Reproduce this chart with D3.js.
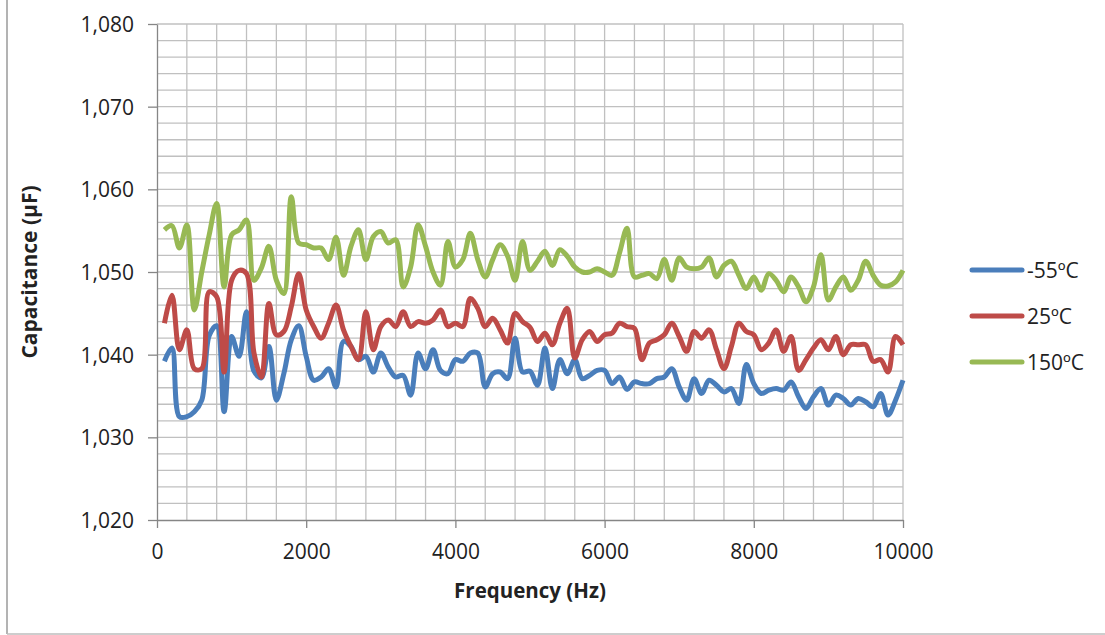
<!DOCTYPE html>
<html>
<head>
<meta charset="utf-8">
<script src="https://cdn.jsdelivr.net/npm/d3@7"></script>
<style>
  body { margin: 0; background: #fff; }
  text { font-family: "Open Sans", "Liberation Sans", sans-serif; fill: #222; }
</style>
</head>
<body>
<div id="chart"></div>
<script>
// frequencies (Hz), one sample every 100 Hz
const freqs = [100, 200, 300, 400, 500, 600, 700, 800, 900, 1000,
  1100, 1200, 1300, 1400, 1500, 1600, 1700, 1800, 1900, 2000,
  2100, 2200, 2300, 2400, 2500, 2600, 2700, 2800, 2900, 3000,
  3100, 3200, 3300, 3400, 3500, 3600, 3700, 3800, 3900, 4000,
  4100, 4200, 4300, 4400, 4500, 4600, 4700, 4800, 4900, 5000,
  5100, 5200, 5300, 5400, 5500, 5600, 5700, 5800, 5900, 6000,
  6100, 6200, 6300, 6400, 6500, 6600, 6700, 6800, 6900, 7000,
  7100, 7200, 7300, 7400, 7500, 7600, 7700, 7800, 7900, 8000,
  8100, 8200, 8300, 8400, 8500, 8600, 8700, 8800, 8900, 9000,
  9100, 9200, 9300, 9400, 9500, 9600, 9700, 9800, 9900, 10000];

const capMinus55 = [1.0392, 1.0408, 1.0325, 1.0325, 1.0331, 1.0345, 1.0423, 1.0435, 1.0331, 1.0422,
  1.0398, 1.0452, 1.0380, 1.0372, 1.0410, 1.0345, 1.0377, 1.0418, 1.0435, 1.0398,
  1.0369, 1.0373, 1.0383, 1.0361, 1.0416, 1.0410, 1.0394, 1.0398, 1.0379, 1.0402,
  1.0385, 1.0373, 1.0375, 1.0351, 1.0402, 1.0383, 1.0406, 1.0381, 1.0377, 1.0394,
  1.0392, 1.0402, 1.0402, 1.0361, 1.0377, 1.0379, 1.0371, 1.0420, 1.0379, 1.0380,
  1.0363, 1.0408, 1.0359, 1.0394, 1.0377, 1.0394, 1.0371, 1.0375, 1.0381, 1.0381,
  1.0365, 1.0373, 1.0358, 1.0367, 1.0365, 1.0365, 1.0371, 1.0373, 1.0383, 1.0361,
  1.0345, 1.0371, 1.0353, 1.0369, 1.0363, 1.0355, 1.0359, 1.0341, 1.0388, 1.0365,
  1.0353, 1.0357, 1.0359, 1.0357, 1.0367, 1.0349, 1.0335, 1.0349, 1.0359, 1.0339,
  1.0351, 1.0347, 1.0339, 1.0347, 1.0343, 1.0337, 1.0353, 1.0327, 1.0345, 1.0369];

const cap25 = [1.0438, 1.0472, 1.0406, 1.0430, 1.0383, 1.0383, 1.0476, 1.0470, 1.0379, 1.0490,
  1.0502, 1.0498, 1.0402, 1.0373, 1.0462, 1.0424, 1.0428, 1.0458, 1.0498, 1.0454,
  1.0434, 1.0420, 1.0438, 1.0460, 1.0430, 1.0410, 1.0394, 1.0452, 1.0406, 1.0434,
  1.0442, 1.0434, 1.0452, 1.0434, 1.0440, 1.0438, 1.0442, 1.0454, 1.0434, 1.0438,
  1.0434, 1.0468, 1.0456, 1.0434, 1.0444, 1.0430, 1.0414, 1.0450, 1.0440, 1.0433,
  1.0416, 1.0426, 1.0412, 1.0438, 1.0456, 1.0396, 1.0418, 1.0428, 1.0416, 1.0424,
  1.0426, 1.0438, 1.0434, 1.0432, 1.0394, 1.0414, 1.0418, 1.0424, 1.0438, 1.0422,
  1.0404, 1.0428, 1.0420, 1.0430, 1.0406, 1.0383, 1.0410, 1.0438, 1.0428, 1.0424,
  1.0406, 1.0414, 1.0430, 1.0404, 1.0422, 1.0381, 1.0394, 1.0408, 1.0418, 1.0406,
  1.0422, 1.0400, 1.0412, 1.0412, 1.0412, 1.0392, 1.0394, 1.0379, 1.0422, 1.0412];

const cap150 = [1.0551, 1.0556, 1.0529, 1.0557, 1.0454, 1.0500, 1.0545, 1.0583, 1.0482, 1.0545,
  1.0551, 1.0563, 1.0490, 1.0505, 1.0531, 1.0490, 1.0474, 1.0591, 1.0535, 1.0533,
  1.0529, 1.0529, 1.0515, 1.0542, 1.0496, 1.0531, 1.0551, 1.0515, 1.0543, 1.0549,
  1.0535, 1.0539, 1.0482, 1.0506, 1.0557, 1.0531, 1.0500, 1.0484, 1.0537, 1.0506,
  1.0515, 1.0547, 1.0515, 1.0494, 1.0515, 1.0533, 1.0519, 1.0490, 1.0537, 1.0502,
  1.0513, 1.0525, 1.0508, 1.0527, 1.0519, 1.0506, 1.0500, 1.0500, 1.0504, 1.0500,
  1.0496, 1.0523, 1.0553, 1.0494, 1.0496, 1.0498, 1.0492, 1.0515, 1.0490, 1.0517,
  1.0506, 1.0504, 1.0506, 1.0517, 1.0494, 1.0508, 1.0513, 1.0496, 1.0480, 1.0494,
  1.0478, 1.0498, 1.0490, 1.0476, 1.0494, 1.0482, 1.0464, 1.0482, 1.0521, 1.0466,
  1.0482, 1.0494, 1.0478, 1.0490, 1.0513, 1.0496, 1.0484, 1.0483, 1.0488, 1.0502];

const seriesNames = ["-55ºC", "25ºC", "150ºC"];
const seriesColors = ["#4a7ebb", "#be4b48", "#98b954"];
const xTicks = [0, 2000, 4000, 6000, 8000, 10000];
const yTicks = [1.020, 1.030, 1.040, 1.050, 1.060, 1.070, 1.080];

const W = 1105, H = 635;
const margin = { top: 24, right: 202, bottom: 115, left: 157 };
const width = W - margin.left - margin.right;
const height = H - margin.top - margin.bottom;

const svg = d3.select("#chart").append("svg")
    .attr("width", W)
    .attr("height", H);

// chart frame (left and bottom edges visible)
svg.append("line").attr("x1", 7).attr("x2", 7).attr("y1", 0).attr("y2", 634)
    .attr("stroke", "#9a9a9a").attr("stroke-width", 1.5);
svg.append("line").attr("x1", 7).attr("x2", W).attr("y1", 634).attr("y2", 634)
    .attr("stroke", "#bcbcbc").attr("stroke-width", 1.5);

const g = svg.append("g").attr("transform", `translate(${margin.left},${margin.top})`);

const x = d3.scaleLinear().domain([0, 10000]).range([0, width]);
const y = d3.scaleLinear().domain([1.020, 1.080]).range([height, 0]);

// gridlines
g.append("g")
    .selectAll("line")
    .data(d3.range(400, 10001, 400))
    .enter().append("line")
    .attr("x1", d => x(d)).attr("x2", d => x(d))
    .attr("y1", 0).attr("y2", height)
    .attr("stroke", "#c0c0c0").attr("stroke-width", 1.3);

g.append("g")
    .selectAll("line")
    .data(d3.range(1.022, 1.0801, 0.002))
    .enter().append("line")
    .attr("x1", 0).attr("x2", width)
    .attr("y1", d => y(d)).attr("y2", d => y(d))
    .attr("stroke", "#c0c0c0").attr("stroke-width", 1.3);

const loc = d3.formatLocale({ decimal: ",", thousands: ".", grouping: [3], currency: ["", ""] });
const fmtY = loc.format(".3f");

const xAxis = g.append("g")
    .attr("transform", `translate(0,${height})`)
    .call(d3.axisBottom(x).tickValues(xTicks).tickFormat(d3.format("d")).tickSize(8).tickSizeOuter(0));

const yAxis = g.append("g")
    .call(d3.axisLeft(y).tickValues(yTicks).tickFormat(fmtY).tickSize(9).tickSizeOuter(0));

[xAxis, yAxis].forEach(a => {
    a.select(".domain").attr("stroke", "#868686").attr("stroke-width", 1.3);
    a.selectAll(".tick line").attr("stroke", "#868686").attr("stroke-width", 1.3);
    a.selectAll(".tick text")
        .style("font-family", "'Open Sans', sans-serif")
        .style("font-size", "21px")
        .attr("fill", "#222");
});
xAxis.selectAll(".tick text").attr("dy", "0").attr("y", 39);
yAxis.selectAll(".tick text").attr("x", -23).attr("dy", "0.36em");

// Axis Labels
svg.append("text")
    .attr("x", margin.left + width / 2)
    .attr("y", 598)
    .attr("text-anchor", "middle")
    .style("font-size", "20.5px")
    .style("font-weight", "bold")
    .text("Frequency (Hz)");

svg.append("text")
    .attr("transform", `translate(37,${margin.top + height / 2}) rotate(-90)`)
    .attr("text-anchor", "middle")
    .style("font-size", "21px")
    .style("font-weight", "bold")
    .text("Capacitance (µF)");

// series lines
const line = d3.line()
    .x((d, i) => x(freqs[i]))
    .y(d => y(d))
    .curve(d3.curveCatmullRom.alpha(0.5));

[capMinus55, cap25, cap150].forEach((vals, k) => {
    g.append("path")
        .datum(vals)
        .attr("fill", "none")
        .attr("stroke", seriesColors[k])
        .attr("stroke-width", 5)
        .attr("stroke-linejoin", "round")
        .attr("d", line);
});

// legend
const legend = svg.append("g").attr("transform", "translate(972,270)");
seriesNames.forEach((name, k) => {
    const row = legend.append("g").attr("transform", `translate(0,${k * 46})`);
    row.append("line")
        .attr("x1", 0).attr("x2", 50)
        .attr("stroke", seriesColors[k])
        .attr("stroke-width", 5)
        .attr("stroke-linecap", "round");
    row.append("text")
        .attr("x", 55)
        .attr("dy", "0.36em")
        .style("font-size", "21px")
        .text(name);
});
</script>
</body>
</html>
